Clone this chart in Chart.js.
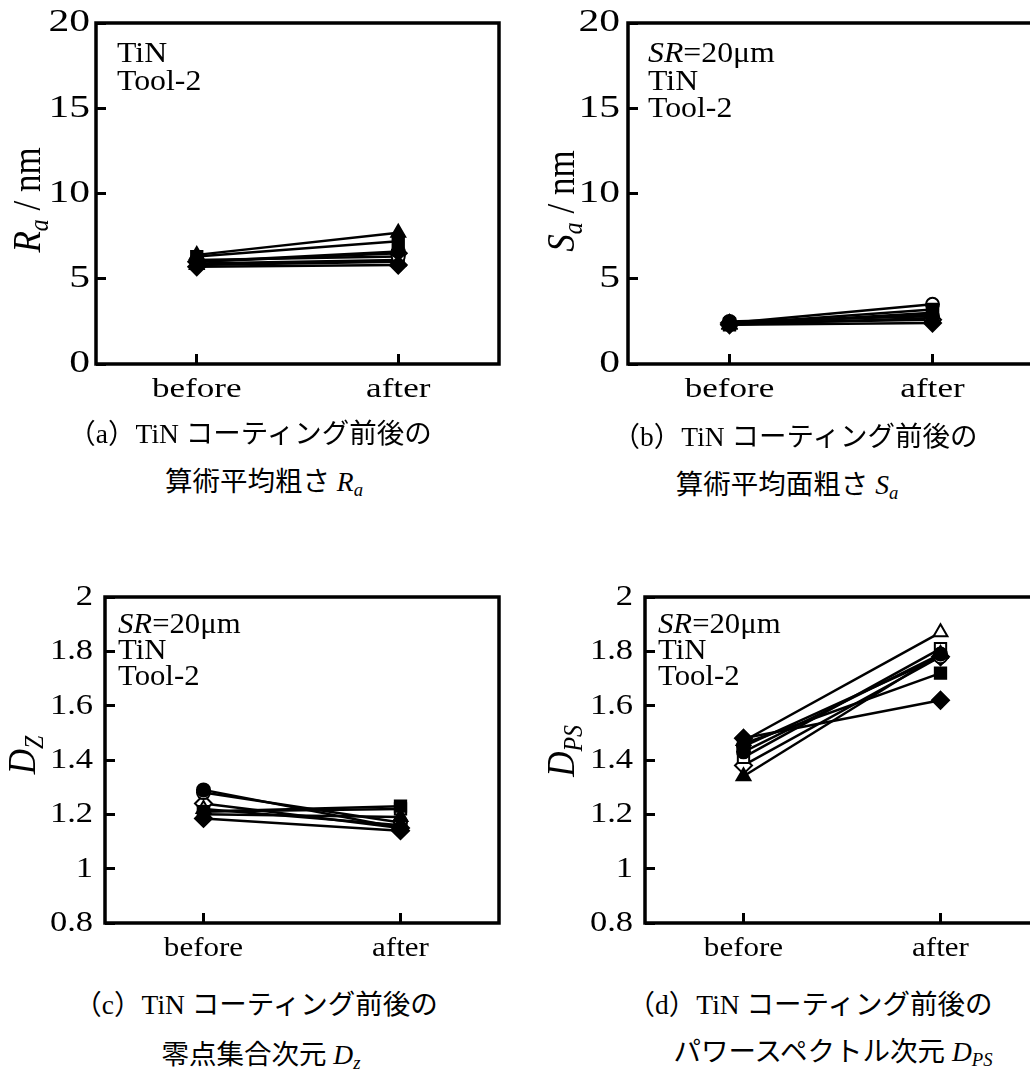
<!DOCTYPE html>
<html lang="ja">
<head>
<meta charset="utf-8">
<title>TiN コーティング前後の表面性状</title>
<script src="https://cdn.jsdelivr.net/npm/chart.js@4.4.1/dist/chart.umd.min.js"></script>
<style>
  html, body { margin: 0; padding: 0; background: #fff; }
  body { width: 1030px; height: 1086px; overflow: hidden; position: relative; }
  canvas { position: absolute; }
  .caption {
    position: absolute;
    font-family: "Liberation Serif", "Noto Sans CJK JP", serif;
    font-size: 27.5px;
    line-height: 1;
    color: #000;
    white-space: nowrap;
    transform: translate(-50%, -50%);
  }
  .caption sub { font-size: 0.68em; vertical-align: -0.25em; line-height: 0; }
</style>
</head>
<body>
<canvas id="chart-ra"></canvas>
<canvas id="chart-sa"></canvas>
<canvas id="chart-dz"></canvas>
<canvas id="chart-dps"></canvas>

<div class="caption" style="left:250px;top:434px">（a）TiN コーティング前後の</div>
<div class="caption" style="left:264px;top:482px">算術平均粗さ <i>R</i><sub><i>a</i></sub></div>
<div class="caption" style="left:795px;top:437px">（b）TiN コーティング前後の</div>
<div class="caption" style="left:787px;top:485px">算術平均面粗さ <i>S</i><sub><i>a</i></sub></div>
<div class="caption" style="left:256px;top:1005px">（c）TiN コーティング前後の</div>
<div class="caption" style="left:261px;top:1055px">零点集合次元 <i>D</i><sub><i>z</i></sub></div>
<div class="caption" style="left:810px;top:1005px">（d）TiN コーティング前後の</div>
<div class="caption" style="left:833px;top:1052px">パワースペクトル次元 <i>D</i><sub><i>PS</i></sub></div>

<script>
// 横軸
const stages = ['before', 'after'];

// 系列ごとのマーカー（塗りつぶし4種 + 白抜き4種）
const markerShapes = ['circle', 'rect', 'triangle', 'rectRot', 'circle', 'rect', 'triangle', 'rectRot'];
const markerFilled = [true, true, true, true, false, false, false, false];

// (a) 算術平均粗さ Ra [nm]
const raBefore = [6.0, 6.3, 6.4, 5.7, 6.1, 5.9, 5.8, 6.0];
const raAfter = [6.6, 7.2, 7.7, 5.8, 6.3, 6.1, 6.0, 6.5];

// (b) 算術平均面粗さ Sa [nm]
const saBefore = [2.5, 2.35, 2.3, 2.3, 2.4, 2.3, 2.35, 2.4];
const saAfter = [2.8, 3.2, 2.7, 2.4, 3.5, 3.0, 2.9, 2.6];

// (c) 零点集合次元 Dz
const dzBefore = [1.29, 1.21, 1.20, 1.185, 1.28, 1.21, 1.22, 1.24];
const dzAfter = [1.15, 1.23, 1.19, 1.14, 1.17, 1.22, 1.16, 1.15];

// (d) パワースペクトル次元 Dps
const dpsBefore = [1.43, 1.46, 1.34, 1.48, 1.45, 1.41, 1.47, 1.38];
const dpsAfter = [1.79, 1.72, 1.79, 1.62, 1.78, 1.81, 1.87, 1.78];

const markerRadius = { circle: 6.5, rect: 8, triangle: 8, rectRot: 8.5 };

// グラフ上端の余白（目盛ラベルのはみ出し分より大きくしておく）
const TOP_SPACE = 45;
const RIGHT_SPACE = 16;

// 元の図は文字が横に伸びているので、fillText を横方向に拡大する
function stretchText(ctx) {
    const origFill = ctx.fillText.bind(ctx);
    ctx.textStretch = 1;
    ctx.fillText = function(text, x, y, maxWidth) {
        const s = ctx.textStretch || 1;
        if (s === 1) {
            return origFill(text, x, y, maxWidth);
        }
        const m = ctx.getTransform();
        const p = m.transformPoint(new DOMPoint(x, y));
        ctx.save();
        ctx.setTransform(new DOMMatrix().translate(p.x, p.y).scale(s, 1).translate(-p.x, -p.y).multiply(m));
        origFill(text, x, y, maxWidth);
        ctx.restore();
    };
}

function buildDatasets(before, after) {
    return before.map((b, i) => ({
        data: [b, after[i]],
        borderColor: '#000',
        borderWidth: 2.5,
        pointStyle: markerShapes[i],
        pointRadius: markerRadius[markerShapes[i]],
        pointBorderWidth: 2,
        pointBorderColor: '#000',
        pointBackgroundColor: markerFilled[i] ? '#000' : '#fff',
        fill: false,
        tension: 0
    }));
}

// 文字列（斜体・下付きを含む）を左から順に描く
function drawRuns(ctx, runs, x, y, size, advanceScale) {
    let cx = x;
    runs.forEach(r => {
        const fs = r.sub ? size * 0.68 : size;
        ctx.font = (r.italic ? 'italic ' : '') + fs + 'px "Liberation Serif"';
        ctx.fillText(r.text, cx, y + (r.sub ? size * 0.22 : 0));
        cx += ctx.measureText(r.text).width * advanceScale;
    });
}

function runsWidth(ctx, runs, size) {
    let w = 0;
    runs.forEach(r => {
        const fs = r.sub ? size * 0.68 : size;
        ctx.font = (r.italic ? 'italic ' : '') + fs + 'px "Liberation Serif"';
        w += ctx.measureText(r.text).width;
    });
    return w;
}

// 枠・縦軸タイトル・注記（座標はページ基準で受け取り、キャンバス基準に直す）
const panelDecor = {
    id: 'panelDecor',
    afterDraw(chart, args, opts) {
        const ctx = chart.ctx;
        const area = chart.chartArea;
        const ox = opts.offsetX;
        const oy = opts.offsetY;
        ctx.save();
        ctx.strokeStyle = '#000';
        ctx.lineWidth = 3.5;
        ctx.strokeRect(area.left, area.top, area.right - area.left, area.bottom - area.top);

        ctx.fillStyle = '#000';
        ctx.textAlign = 'left';
        ctx.textBaseline = 'alphabetic';

        // 注記
        ctx.textStretch = opts.noteStretch;
        opts.notes.forEach((line, i) => {
            drawRuns(ctx, line, opts.noteX - ox, opts.noteY[i] - oy, opts.noteSize, opts.noteStretch);
        });

        // 縦軸タイトル（回転）
        ctx.textStretch = 1.15;
        const w = runsWidth(ctx, opts.title, opts.titleSize);
        ctx.translate(opts.titleX - ox, opts.titleY - oy);
        ctx.rotate(-Math.PI / 2);
        drawRuns(ctx, opts.title, -w / 2, 0, opts.titleSize, 1);
        ctx.restore();
        ctx.textStretch = opts.tickStretch;
    }
};

function makeChart(id, p) {
    const canvas = document.getElementById(id);
    const offsetX = p.left;
    const offsetY = p.areaTop - TOP_SPACE;
    canvas.width = p.areaRight + RIGHT_SPACE - p.left;
    canvas.height = TOP_SPACE + (p.areaBottom - p.areaTop) + p.xHeight;
    canvas.style.left = offsetX + 'px';
    canvas.style.top = offsetY + 'px';

    const ctx = canvas.getContext('2d');
    stretchText(ctx);
    ctx.textStretch = p.tickStretch;

    return new Chart(ctx, {
        type: 'line',
        data: {
            labels: stages,
            datasets: buildDatasets(p.before, p.after)
        },
        options: {
            responsive: false,
            animation: false,
            layout: { padding: { top: TOP_SPACE, right: RIGHT_SPACE, left: 0, bottom: 0 } },
            plugins: {
                legend: { display: false },
                tooltip: { enabled: false },
                panelDecor: {
                    offsetX: offsetX,
                    offsetY: offsetY,
                    tickStretch: p.tickStretch,
                    notes: p.notes,
                    noteX: p.noteX,
                    noteY: p.noteY,
                    noteSize: p.noteSize,
                    noteStretch: 1.06,
                    title: p.title,
                    titleX: p.titleX,
                    titleY: p.titleY,
                    titleSize: 35
                }
            },
            scales: {
                x: {
                    offset: true,
                    border: { display: false },
                    grid: { drawOnChartArea: false, color: '#000', lineWidth: 3, tickLength: -10 },
                    ticks: {
                        color: '#000',
                        padding: 20,
                        font: { family: 'Liberation Serif', size: p.catSize }
                    },
                    afterFit: s => { s.height = p.xHeight; }
                },
                y: {
                    min: p.min,
                    max: p.max,
                    border: { display: false },
                    grid: { drawOnChartArea: false, color: '#000', lineWidth: 3, tickLength: -10 },
                    ticks: {
                        stepSize: p.step,
                        color: '#000',
                        padding: p.tickPad,
                        font: { family: 'Liberation Serif', size: p.tickSize },
                        callback: v => String(Math.round(v * 10) / 10)
                    },
                    afterFit: s => { s.width = p.areaLeft - p.left; }
                }
            }
        },
        plugins: [panelDecor]
    });
}

const noteTin = [{ text: 'TiN' }];
const noteTool = [{ text: 'Tool-2' }];
const noteSR = [{ text: 'SR', italic: true }, { text: '=20\u03bcm' }];

makeChart('chart-ra', {
    before: raBefore, after: raAfter,
    min: 0, max: 20, step: 5,
    left: 0, areaLeft: 96, areaRight: 499, areaTop: 23, areaBottom: 364, xHeight: 56,
    tickSize: 32, catSize: 27, tickPad: 16, tickStretch: 1.3,
    notes: [noteTin, noteTool], noteX: 117, noteY: [62, 90], noteSize: 30,
    title: [{ text: 'R', italic: true }, { text: 'a', italic: true, sub: true }, { text: ' / nm' }],
    titleX: 40, titleY: 200
});

makeChart('chart-sa', {
    before: saBefore, after: saAfter,
    min: 0, max: 20, step: 5,
    left: 520, areaLeft: 628, areaRight: 1034, areaTop: 23, areaBottom: 364, xHeight: 56,
    tickSize: 32, catSize: 27, tickPad: 18, tickStretch: 1.3,
    notes: [noteSR, noteTin, noteTool], noteX: 648, noteY: [62, 90, 117], noteSize: 30,
    title: [{ text: 'S', italic: true }, { text: 'a', italic: true, sub: true }, { text: ' / nm' }],
    titleX: 574, titleY: 201
});

makeChart('chart-dz', {
    before: dzBefore, after: dzAfter,
    min: 0.8, max: 2, step: 0.2,
    left: 0, areaLeft: 105, areaRight: 499, areaTop: 597, areaBottom: 923, xHeight: 57,
    tickSize: 30, catSize: 27, tickPad: 22, tickStretch: 1.15,
    notes: [noteSR, noteTin, noteTool], noteX: 118, noteY: [633, 659, 685], noteSize: 29,
    title: [{ text: 'D', italic: true }, { text: 'Z', italic: true, sub: true }],
    titleX: 35, titleY: 755
});

makeChart('chart-dps', {
    before: dpsBefore, after: dpsAfter,
    min: 0.8, max: 2, step: 0.2,
    left: 520, areaLeft: 645, areaRight: 1039, areaTop: 597, areaBottom: 923, xHeight: 57,
    tickSize: 30, catSize: 27, tickPad: 22, tickStretch: 1.15,
    notes: [noteSR, noteTin, noteTool], noteX: 658, noteY: [633, 659, 685], noteSize: 29,
    title: [{ text: 'D', italic: true }, { text: 'PS', italic: true, sub: true }],
    titleX: 574, titleY: 751
});
</script>
</body>
</html>
